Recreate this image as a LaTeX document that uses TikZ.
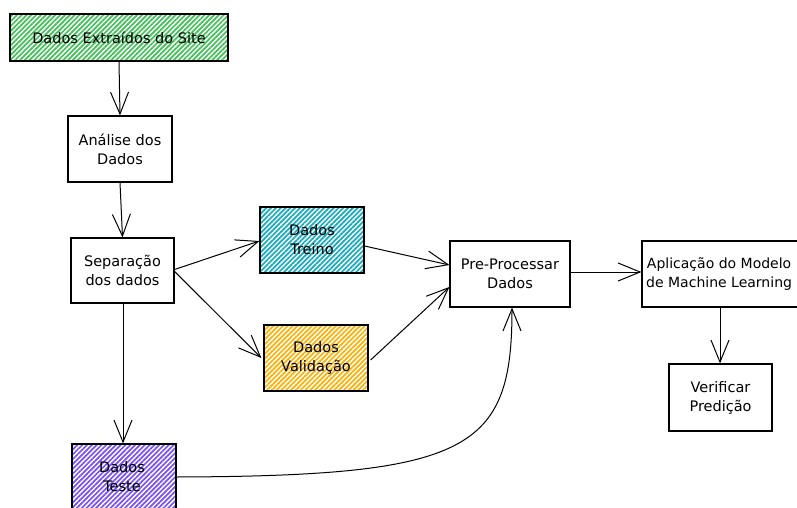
\documentclass[tikz,border=0pt]{standalone}
\usepackage{fontspec}
\setmainfont{DejaVu Sans}
\usetikzlibrary{arrows.meta,patterns.meta,calc}
\definecolor{exgreen}{HTML}{40C057}
\definecolor{excyan}{HTML}{15AABF}
\definecolor{exyellow}{HTML}{FAB005}
\definecolor{expurple}{HTML}{7950F2}
\tikzset{
  box/.style={draw=black, line width=1.2pt, align=center, inner sep=0pt},
  lbl/.style={font=\fontsize{14.5pt}{19pt}\selectfont, align=center},
  hatch/.style={pattern={Lines[angle=45,distance=3.4pt,line width=1.7pt]}, pattern color=#1},
  conn/.style={draw=black, line width=1pt, -{Straight Barb[length=22pt,width=18pt,line width=1pt]}},
}
\newcommand{\mybox}[6]{%
  \node[box, #6, minimum width={(#3-#1)*1pt}, minimum height={(#4-#2)*1pt}] (#5) at ({(#1+#3)/2},{(#2+#4)/2}) {};}
\begin{document}
\begin{tikzpicture}[x=1pt,y=-1pt]
\clip (0,0) rectangle (797,508);
\fill[white] (0,0) rectangle (797,508);
\mybox{10}{14}{228}{61}{site}{hatch=exgreen}
\node[lbl] (sitet) at (site.center) {Dados Extraídos do Site};
\mybox{68}{116}{172}{182}{anal}{}
\node[lbl] (analt) at (anal.center) {Análise dos\\Dados};
\mybox{71}{238}{174}{303}{sep}{}
\node[lbl] (sept) at (sep.center) {Separação\\dos dados};
\mybox{260}{207}{364}{273}{trein}{hatch=excyan}
\node[lbl] (treint) at (trein.center) {Dados\\Treino};
\mybox{264}{325}{368}{391}{valid}{hatch=exyellow}
\node[lbl] (validt) at (valid.center) {Dados\\Validação};
\mybox{450}{241}{570}{307}{prep}{}
\node[lbl] (prept) at (prep.center) {Pre-Processar\\Dados};
\mybox{642}{241}{812}{307}{apl}{}
\node[lbl, font=\fontsize{14pt}{19pt}\selectfont, anchor=west, inner sep=0pt] (aplt) at (646,274) {Aplicação do Modelo\\de Machine Learning};
\mybox{669}{364}{772}{431}{verif}{}
\node[lbl] (verift) at (verif.center) {Verificar\\Predição};
\mybox{72}{444}{176}{520}{teste}{hatch=expurple}
\node[lbl] (testet) at (122,477) {Dados\\Teste};
% connectors
\draw[conn] (site.south) -- (anal.north);
\draw[conn] (anal.south) -- (sep.north);
\draw[conn] ($(sep.east)+(0,-1)$) -- ($(trein.west)+(0,1)$);
\draw[conn] ($(sep.east)+(0,1)$) -- ($(valid.west)+(-2,0)$);
\draw[conn] ($(sep.south)+(0.5,0)$) -- ($(teste.north)+(-1,0)$);
\draw[conn] ($(trein.east)+(0,6)$) -- ($(prep.west)+(0,-9)$);
\draw[conn] ($(valid.east)+(2,2)$) -- ($(prep.west)+(0,13)$);
\draw[conn] ($(teste.east)+(0,-5)$) .. controls (470,476) and (512,450) .. ($(prep.south)+(2,0)$);
\draw[conn] ($(prep.east)+(0,-2)$) -- ($(apl.west)+(0,-2)$);
\draw[conn] ($(apl.south)+(-7,0)$) -- ($(verif.north)+(-0.5,0)$);
\end{tikzpicture}
\end{document}
